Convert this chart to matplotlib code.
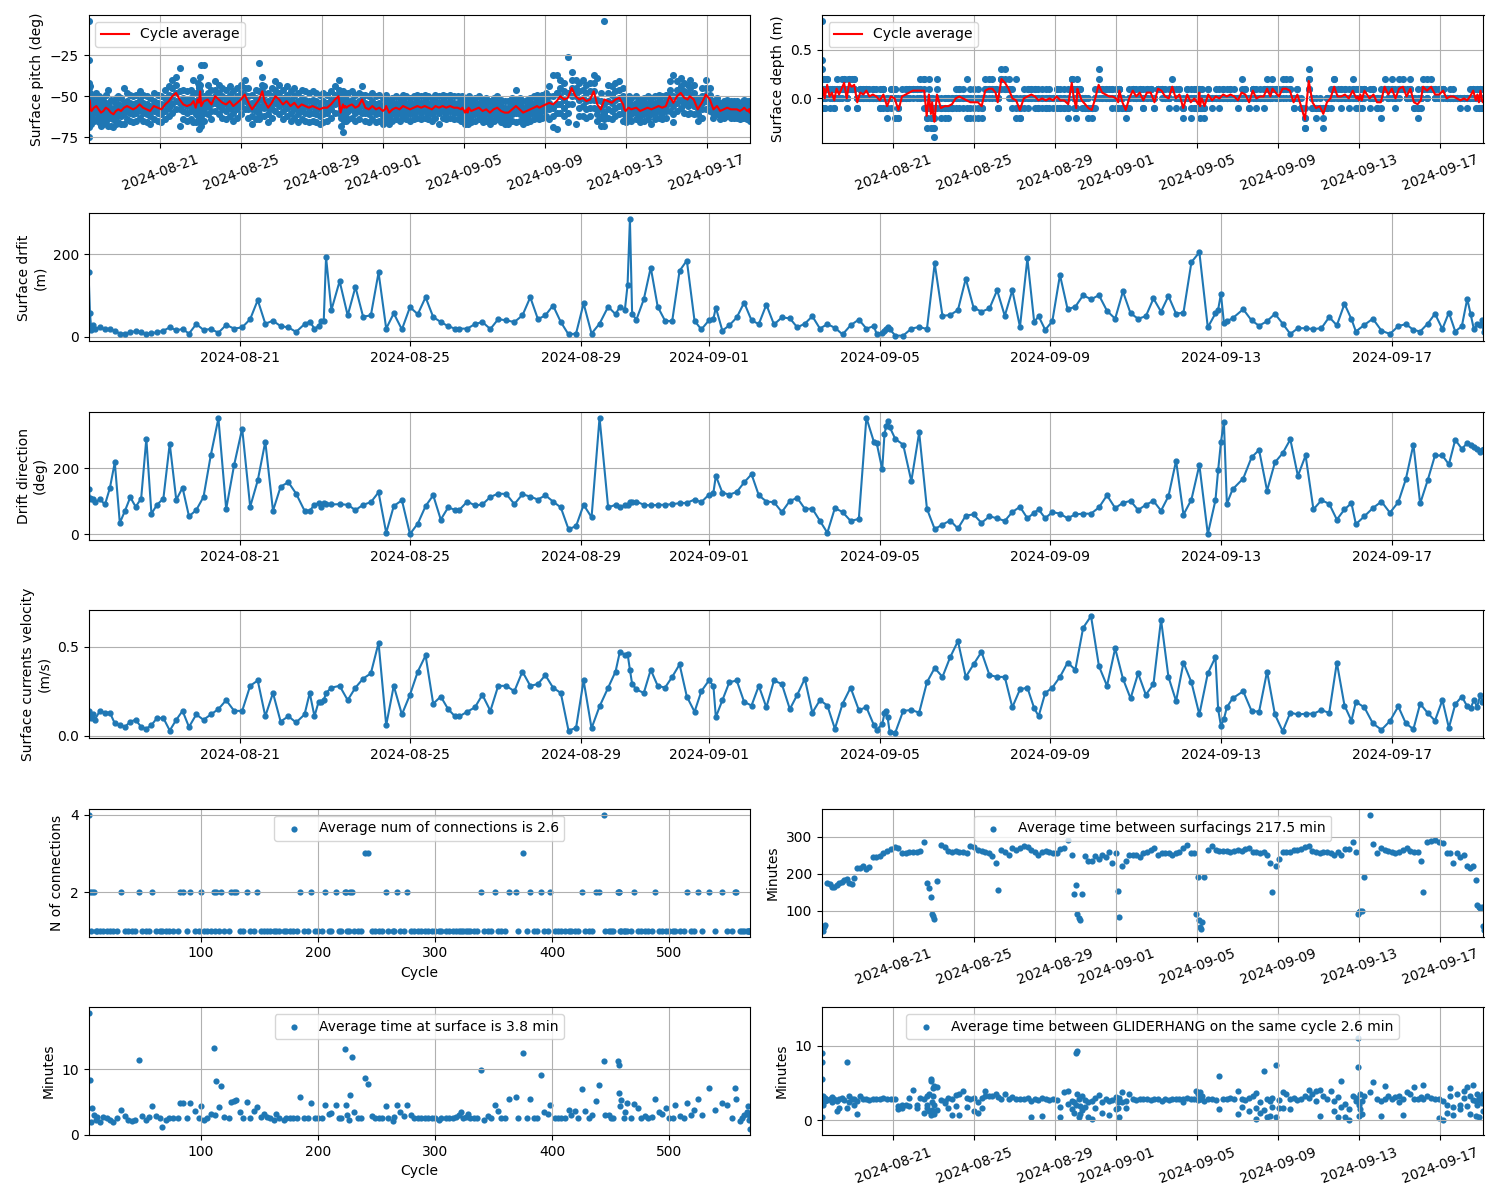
import numpy as np
import pandas as pd
import matplotlib
matplotlib.use('Agg')
import matplotlib.pyplot as plt
import matplotlib.dates as mdates
from matplotlib.ticker import MaxNLocator

# ---------------- data ----------------
start_time = pd.Timestamp('2024-08-17 11:00')

# minutes between consecutive surfacings
surf_interval = [
    50, 45, 55, 60, 175, 172, 165, 165, 170, 175, 178, 182, 185, 175, 172, 188, 215, 215, 220, 212, 218, 245, 245, 248, 255, 262, 268, 272,
    270, 255, 255, 260, 258, 260, 262, 285, 175, 160, 138, 90, 85, 78, 180, 278, 272, 262, 258, 262, 260, 258, 255, 275, 272,
    265, 262, 258, 255, 248, 228, 155, 265, 258, 250, 270, 265, 270, 275, 272, 265, 258, 250, 260, 262, 260, 255, 255,
    268, 270, 290, 250, 145, 170, 90, 80, 75, 145, 248, 235, 235, 248, 240, 250, 245, 260, 230, 255,
    152, 82, 220, 235, 250, 250, 250, 245, 255, 258, 265, 270, 250, 255, 255, 255, 250, 255, 260, 270, 278, 255, 255, 90,
    190, 75, 55, 50, 70, 192, 265, 275, 265, 262, 262, 262, 260, 262, 265, 262, 268, 270, 258, 258, 255, 258, 250, 230, 150, 222, 240,
    258, 258, 260, 265, 265, 268, 272, 275, 262, 258, 255, 260, 258, 255, 250, 258, 250, 268, 268, 285, 258,
    90, 95, 100, 100, 192, 360, 280, 255, 270, 265, 262, 258, 255, 260, 265, 270, 262, 258, 258, 235, 150, 285, 288, 290, 285,
    283, 255, 255, 228, 255, 245, 250, 220, 215, 222, 182, 115, 110, 108, 110, 58, 48,
]

# surface drift (m), one value per surfacing
drift = [
    156, 57, 16, 28, 20, 23, 18, 18, 15, 8, 8, 11, 14, 11, 6, 9, 11, 15, 23, 16, 19, 8, 31, 17, 19, 10, 29, 20, 23,
    43, 89, 32, 39, 26, 23, 12, 31, 37, 20, 26, 39, 39, 193, 65, 135, 52, 121, 49, 52, 156, 20, 57, 18, 72,
    55, 96, 48, 36, 26, 20, 20, 20, 31, 36, 19, 43, 40, 36, 52, 96, 43, 52, 76, 36, 6, 8, 81,
    8, 32, 73, 55, 73, 66, 125, 285, 55, 42, 91, 168, 73, 39, 38, 160, 185, 39, 18, 40,
    44, 71, 15, 28, 47, 83, 40, 31, 78, 30, 47, 45, 23, 32, 50, 20, 31, 22, 6, 28, 42, 20, 26, 7,
    10, 14, 20, 24, 19, 3, 3, 20, 24, 19, 178, 51, 53, 65, 141, 71, 61, 69, 113, 51, 113, 24, 190, 36, 50, 17, 38,
    150, 67, 73, 101, 91, 101, 63, 44, 110, 57, 44, 50, 93, 61, 99, 56, 59, 181, 205, 23, 57,
    66, 104, 34, 38, 45, 67, 40, 27, 38, 56, 32, 7, 21, 21, 19, 21, 48, 28, 80, 43, 13, 29, 44, 15, 7,
    26, 31, 17, 13, 32, 56, 19, 59, 13, 26, 92, 55, 18, 30, 28, 42, 11,
]

# drift direction (deg)
drift_dir = [
    138, 110, 108, 106, 97, 106, 90, 140, 218, 34, 71, 112, 83, 108, 290, 62, 89, 108, 275, 104, 141, 54, 73, 113, 241, 352, 76, 210, 321,
    83, 163, 281, 71, 144, 158, 123, 71, 71, 89, 94, 81, 95, 90, 90, 91, 89, 73, 89, 97, 127, 4, 85, 103, 0,
    32, 85, 118, 44, 81, 74, 74, 99, 87, 90, 113, 123, 122, 91, 121, 114, 105, 118, 99, 81, 15, 24, 89,
    51, 354, 81, 89, 81, 87, 89, 97, 99, 99, 89, 87, 89, 89, 91, 94, 95, 105, 97, 120,
    126, 177, 126, 120, 128, 157, 182, 118, 99, 97, 67, 101, 110, 77, 77, 40, 4, 79, 67, 40, 46, 354, 280, 278,
    197, 303, 328, 344, 326, 289, 272, 161, 309, 77, 15, 29, 41, 17, 56, 60, 34, 54, 48, 40, 67, 83, 48, 65, 75, 48, 67,
    62, 48, 60, 62, 62, 81, 118, 79, 95, 101, 73, 89, 101, 71, 115, 223, 59, 105, 210, 0, 103,
    194, 279, 342, 92, 136, 169, 233, 256, 132, 218, 246, 288, 177, 239, 75, 103, 92, 44, 75, 94, 30, 54, 79, 99, 65,
    97, 167, 272, 93, 164, 239, 239, 212, 287, 259, 277, 272, 264, 258, 249, 255, 259,
]

# surface currents velocity (m/s)
velocity = [
    0.14, 0.11, 0.10, 0.12, 0.09, 0.14, 0.13, 0.13, 0.07, 0.06, 0.05, 0.08, 0.09, 0.05, 0.04, 0.06, 0.10, 0.10, 0.03, 0.09,
    0.14, 0.05, 0.12, 0.09, 0.12, 0.15, 0.20, 0.14, 0.14,
    0.28, 0.31, 0.11, 0.24, 0.08, 0.11, 0.075, 0.12, 0.24, 0.11, 0.19, 0.19, 0.20, 0.24, 0.27, 0.28, 0.20, 0.27, 0.32, 0.35,
    0.52, 0.06, 0.28, 0.12, 0.23,
    0.36, 0.45, 0.18, 0.22, 0.15, 0.11, 0.11, 0.135, 0.16, 0.23, 0.14, 0.28, 0.28, 0.25, 0.36, 0.28, 0.29, 0.34, 0.27, 0.24,
    0.03, 0.045, 0.31,
    0.043, 0.165, 0.27, 0.36, 0.47, 0.455, 0.46, 0.37, 0.29, 0.26, 0.24, 0.37, 0.28, 0.27, 0.33, 0.40, 0.22, 0.135, 0.25, 0.31,
    0.28, 0.105, 0.20, 0.30, 0.31, 0.19, 0.17, 0.28, 0.16, 0.31, 0.29, 0.15, 0.23, 0.32, 0.13, 0.20, 0.17, 0.04, 0.18, 0.27,
    0.145, 0.16, 0.06, 0.034,
    0.066, 0.126, 0.14, 0.105, 0.024, 0.019, 0.14, 0.145, 0.13, 0.30, 0.38, 0.33, 0.44, 0.53, 0.33, 0.40, 0.47, 0.34, 0.33, 0.33,
    0.16, 0.26, 0.27, 0.155, 0.11, 0.24, 0.27,
    0.33, 0.41, 0.37, 0.605, 0.67, 0.39, 0.28, 0.49, 0.32, 0.21, 0.35, 0.23, 0.29, 0.65, 0.33, 0.195, 0.41, 0.30, 0.12, 0.35, 0.44,
    0.15, 0.056, 0.094, 0.16, 0.21, 0.25, 0.14, 0.135, 0.36, 0.12, 0.026, 0.13, 0.12, 0.124, 0.124, 0.145, 0.128, 0.41, 0.17, 0.085,
    0.19, 0.16, 0.07, 0.034, 0.083,
    0.165, 0.07, 0.038, 0.18, 0.128, 0.085, 0.20, 0.045, 0.177, 0.22, 0.165, 0.155, 0.20, 0.163, 0.23, 0.19, 0.20,
]

# pitch samples (deg) logged at each surfacing, ';' separates surfacings
pitch_samples = """
-4 -45 -58 -62 -66 -69 -75 -60; -28 -42 -50 -55 -60 -63 -66; -44 -48 -53 -58 -62; -50 -54 -58 -62 -66; -51 -56 -59 -62 -67;
-49 -54 -57 -60 -65; -48 -53 -56 -59 -64; -50 -55 -58 -61 -66; -52 -57 -60 -63 -68; -51 -56 -59 -62 -67;
-49 -54 -57 -60 -65; -46 -55 -58 -63 -68; -52 -57 -60 -63 -68; -53 -58 -61 -64 -69; -51 -56 -59 -62 -67;
-50 -55 -58 -61 -66; -51 -56 -59 -62 -67; -45 -54 -58 -61 -67; -48 -53 -56 -59 -64; -49 -54 -57 -60 -65;
-50 -55 -58 -61 -66; -49 -54 -57 -60 -65; -47 -52 -55 -58 -63; -49 -54 -57 -60 -65; -50 -55 -58 -61 -66;
-51 -56 -59 -62 -67; -48 -53 -56 -59 -64; -49 -54 -57 -60 -65; -50 -55 -58 -61 -66;
-46 -51 -55 -59 -64; -44 -49 -53 -57 -62; -40 -45 -50 -55 -60; -38 -43 -48 -53 -58; -33 -47 -54 -58 -68;
-46 -51 -55 -59 -64; -47 -52 -56 -60 -65; -46 -51 -55 -59 -64; -40 -48 -53 -58 -66; -48 -53 -57 -61 -66;
-42 -48 -52 -56 -62; -70 -45 -50 -55 -60 -44; -38 -43 -47 -51 -56; -31 -52 -58 -62 -68 -65; -31 -50 -55 -60 -65 -58;
-43 -48 -52 -56 -61; -46 -51 -55 -59 -64; -41 -46 -50 -54 -59; -43 -48 -52 -56 -61; -45 -50 -54 -58 -63;
-46 -51 -55 -59 -64; -44 -49 -53 -57 -62; -47 -52 -56 -60 -65; -45 -50 -54 -58 -63; -43 -48 -52 -56 -61;
-40 -45 -49 -53 -58; -45 -50 -54 -58 -63; -49 -54 -58 -62 -67; -46 -51 -55 -59 -64; -30 -47 -52 -58 -64 -61;
-38 -43 -47 -51 -56; -44 -49 -53 -57 -62; -48 -53 -57 -61 -66; -45 -50 -54 -58 -63; -41 -46 -50 -54 -59;
-43 -48 -52 -56 -61; -46 -51 -55 -59 -64; -44 -49 -53 -57 -62; -47 -52 -56 -60 -65; -45 -50 -54 -58 -63;
-48 -53 -57 -61 -66; -46 -51 -55 -59 -64; -47 -52 -56 -60 -65; -48 -53 -57 -61 -66; -47 -52 -56 -60 -65;
-48 -53 -57 -61 -66; -49 -54 -58 -62 -67; -48 -53 -57 -61 -66;
-49 -54 -57 -60 -65; -47 -52 -55 -58 -63; -44 -49 -52 -55 -60; -40 -46 -50 -54 -60; -52 -57 -60 -63 -68;
-72 -47 -52 -55 -49; -49 -54 -57 -60 -65; -48 -53 -56 -59 -64; -49 -54 -57 -60 -65; -48 -53 -56 -59 -64;
-47 -52 -55 -58 -63; -49 -54 -57 -60 -65; -48 -53 -56 -59 -64; -44 -49 -52 -55 -60; -49 -54 -57 -60 -65;
-50 -55 -58 -61 -66; -48 -53 -56 -59 -64; -50 -55 -58 -61 -66; -49 -54 -57 -60 -65; -51 -56 -59 -62 -67;
-51 -55 -58 -61 -65; -49 -53 -56 -59 -63; -53 -57 -60 -63 -67; -51 -55 -58 -61 -65; -50 -54 -57 -60 -64;
-51 -55 -58 -61 -65; -49 -53 -56 -59 -63; -50 -54 -57 -60 -64; -51 -55 -58 -61 -65; -50 -54 -57 -60 -64;
-49 -53 -56 -59 -63; -50 -54 -57 -60 -64; -49 -53 -56 -59 -63; -50 -54 -57 -60 -64; -51 -55 -58 -61 -65;
-49 -53 -56 -59 -63; -50 -54 -57 -60 -67 -54; -49 -53 -56 -59 -63; -50 -54 -57 -60 -64; -49 -53 -56 -59 -63;
-50 -54 -57 -60 -64; -50 -54 -57 -60 -64; -51 -55 -58 -61 -65; -50 -54 -57 -60 -64;
-53 -57 -60 -63 -67; -52 -56 -59 -62 -66; -51 -55 -58 -61 -65; -53 -57 -60 -63 -67; -50 -54 -57 -60 -64;
-52 -56 -59 -62 -66; -51 -55 -58 -61 -65; -50 -54 -57 -60 -64; -52 -56 -59 -62 -66; -51 -55 -58 -61 -65;
-53 -57 -60 -63 -67; -51 -55 -58 -61 -65; -50 -54 -57 -60 -64; -52 -56 -59 -62 -66; -53 -57 -60 -63 -67;
-53 -57 -60 -63 -67; -51 -55 -58 -61 -65; -46 -52 -56 -60 -66; -51 -55 -58 -61 -65; -53 -57 -60 -63 -67;
-52 -56 -59 -62 -66; -51 -55 -58 -61 -65; -50 -54 -57 -60 -64; -49 -53 -56 -59 -63; -50 -54 -57 -60 -64;
-49 -53 -56 -59 -63; -48 -52 -55 -58 -62;
-44 -50 -54 -58 -64; -37 -50 -57 -62 -69; -37 -48 -55 -60 -70 -48; -40 -45 -50 -55 -60; -42 -47 -52 -57 -62;
-26 -48 -55 -60 -66; -35 -40 -45 -50 -55; -67 -40 -45 -50 -48; -42 -47 -52 -57 -62; -40 -46 -51 -56 -62;
-43 -48 -53 -58 -63; -42 -47 -52 -57 -62; -37 -42 -47 -52 -57; -39 -52 -58 -61 -65; -48 -53 -58 -63 -68;
-4 -55 -60 -64 -68 -61; -43 -48 -53 -58 -63; -44 -49 -54 -59 -64; -42 -47 -52 -57 -62; -41 -46 -51 -56 -61;
-45 -50 -55 -60 -65;
-51 -55 -58 -61 -65; -52 -56 -59 -62 -66; -51 -55 -58 -61 -65; -50 -54 -57 -60 -64; -51 -55 -58 -61 -65;
-50 -54 -57 -60 -64; -52 -56 -59 -62 -66; -51 -55 -58 -61 -65; -50 -54 -57 -60 -64; -51 -55 -58 -61 -67 -56;
-50 -54 -57 -60 -64; -49 -53 -56 -59 -63; -50 -54 -57 -60 -64; -49 -53 -56 -59 -63; -41 -46 -50 -54 -59;
-37 -50 -56 -61 -66; -41 -46 -50 -54 -59; -39 -44 -48 -52 -57; -42 -47 -51 -55 -60; -43 -48 -52 -56 -61;
-40 -45 -50 -55 -60; -43 -48 -52 -56 -61; -51 -55 -58 -61 -65; -45 -50 -54 -58 -63; -40 -45 -49 -53 -58;
-45 -49 -52 -55 -59; -53 -56 -58 -60 -63; -51 -54 -56 -58 -61; -54 -57 -59 -61 -64; -53 -56 -58 -60 -63;
-52 -55 -57 -59 -62; -53 -56 -58 -60 -63; -53 -56 -58 -60 -63; -53 -56 -58 -60 -63; -54 -57 -59 -61 -64;
-53 -56 -58 -60 -63; -52 -55 -57 -59 -62; -53 -56 -58 -60 -63; -54 -57 -59 -61 -64; -53 -56 -58 -60 -63;
-55 -58 -60 -62 -65; -53 -56 -58 -60 -63
"""

# surface depth samples (decimetres) logged at each surfacing
depth_samples = """
8 -1 -1 -1 -1 0; 4 3 -1 0 0 1; 2 1 0 0 -1; 2 1 1 0 1; 1 0 0 -1 0; 2 2 1 1 1; 1 0 0 1 -1; 1 1 0 1 0; 0 0 -1 1 -1;
2 1 1 0 1; 1 0 1 0 0; 2 1 1 1 0; 2 2 1 2 1; 0 0 1 0 -1; 2 2 2 1 1; 1 1 1 2 1; 1 1 2 1 2; 0 -1 0 -1 0; 1 1 0 1 0;
1 0 1 0 0; 1 1 1 1 0; 0 0 1 0 0; 1 0 0 1 0; 0 0 0 0 1; 0 -1 0 1 -1; 1 1 0 -1 1; 0 -2 -1 0 -1; 1 1 0 0 -1; 1 0 -2 0 1;
-2 -1 -1 -2 0; 0 1 0 0 0; 1 0 0 1 0; 1 0 1 1 0; 1 1 0 1 1; 1 1 0 1 1; 2 1 0 0 1; 2 2 1 0 -1; -1 -2 -3 -1 -2;
2 1 0 -1 0; -1 -2 -1 -3 -1; 0 0 -1 -1 0; -2 -3 -1 -1 -2; -4 -3 -2 -1 -2; 2 1 0 0 -1; -1 -2 -1 0 -1; -1 -1 0 -2 0;
-1 -2 0 -1 0; -1 0 0 -1 -1; 1 0 -1 0 0; 1 0 0 1 -1; 0 0 1 0 -1; 2 0 -1 0 -2; 1 -1 0 -2 0; 0 -1 0 -2 1;
-2 -1 0 0 1; -2 -1 -1 0 0; 1 2 0 1 0; 2 1 1 0 1; 2 1 1 1 0; 1 1 0 0 1; 0 -1 0 -1 0; 3 2 2 1 2; 3 2 1 1 1;
2 1 0 1 1; 1 0 0 0 -1; 2 -1 -2 0 0; -1 -2 -1 0 -2; 1 0 0 -1 0; 1 1 0 0 -1; 1 1 0 0 0; 1 0 0 1 -1; 0 -1 0 1 -1;
1 0 0 -1 0; 0 0 -1 1 -1; 1 0 0 -1 0; 0 -1 0 0 0; 1 0 -1 0 1;
0 -1 0 1 -1; 0 -1 -1 1 0; -1 -1 0 -2 1; 2 2 1 1 2; 0 0 -1 0 1; -1 -2 0 -1 -1; 2 1 1 0 1; 1 0 0 1 1; 1 1 0 0 0;
0 -1 0 0 0; -1 -1 0 -1 0; -1 -2 -1 0 -1; -2 -1 -1 -1 -1; 0 0 1 0 -1; 3 2 1 1 0; 1 0 1 0 1; 1 1 0 0 0; 0 0 1 0 0;
1 -1 0 1 0; 0 1 0 -1 0;
0 -1 -1 0 0; 1 1 0 1 1; 0 -1 0 -1 0; -2 -1 -1 -1 -1; 1 0 0 -1 0; 1 1 0 1 1; 1 0 0 0 0; 1 1 0 1 0; 0 -1 1 0 -1;
1 0 1 1 0; 1 0 0 1 1; -1 0 -1 0 0; 1 1 1 1 1; 1 0 1 1 1; 1 0 0 0 0; 0 1 0 0 -1; 2 1 1 1 1; 0 0 1 0 -1; 1 0 0 1 0;
-2 -1 -1 0 -1; 1 0 0 1 0; -1 -2 0 0 1; 0 0 1 -1 0; 1 -1 0 0 -1;
-1 -1 0 0 -1; 1 1 0 1 0; -1 -2 0 -1 0; 0 -1 -1 0 0; 1 0 0 0 -1; -2 -1 0 -1 0; 1 0 0 1 0; 0 0 -1 0 0; 1 0 0 0 0;
0 0 1 -1 0; 1 0 0 1 0; 0 1 0 0 0; 1 0 1 0 0; 1 0 0 0 0; 0 -1 0 0 0; 2 0 0 1 0; 1 1 0 0 0; -1 0 -1 0 0; 1 1 1 0 1;
0 0 1 -1 0; 0 1 0 0 0; 1 0 -1 1 0; 2 1 1 0 1; 1 0 0 0 0; 2 1 1 1 0; 1 1 0 0 1; 0 1 0 0 0;
2 1 1 0 1; 2 1 0 1 1; 1 2 0 1 0; 0 -1 0 -1 0; 1 0 1 0 0; -1 -1 0 -1 -1; -3 -2 -2 -1 -3; 3 2 1 1 2; 0 -1 0 -1 0;
-1 -2 0 -1 -1; -1 -1 -1 0 -1; -3 -2 -1 -1 -1; 0 -1 0 -1 0; 1 0 0 -1 0; 2 2 1 1 0; 1 0 0 0 0; 1 0 0 -1 1; 1 1 0 0 0;
0 0 1 -1 0; 2 1 0 0 1; 0 0 -1 1 0;
1 0 0 0 0; 0 -1 0 0 0; 1 0 1 0 0; 0 -1 0 0 0; 1 1 0 1 1; 0 0 1 -1 0; 1 0 0 1 0; -1 0 -1 0 0; -2 0 -1 0 1;
2 1 1 1 1; 1 0 1 0 0; 2 1 1 0 1; 0 1 0 -1 0; 2 1 1 1 0; 2 1 1 1 1; 1 0 0 0 0; 2 1 1 0 1; -1 0 -1 0 0;
-2 -1 0 -1 1; 0 -1 0 0 0; 2 1 1 1 1; 2 1 0 1 0; 2 1 1 1 1; 1 0 1 0 0; 1 1 0 0 0;
1 1 0 1 1; 0 0 0 0 0; 0 0 0 1 0; 0 0 1 0 0; 0 0 0 0 0; 0 -1 0 0 0; 0 0 0 0 0; -1 0 0 0 0; 1 0 0 0 0;
1 1 0 1 1; 0 -1 0 0 0; 1 0 0 1 0; -1 0 -1 0 0; 1 1 0 1 1; 0 -1 0 0 0; 0 -1 -1 0 0; 1 -1 0 -1 0
"""

# minutes between GLIDERHANG messages within one surfacing ('/' separates values)
hang_samples = """
9.0/7.9/0.4 5.6/2.5 3.3/2.0 2.8 3.0/2.6 2.7 2.9 3.1/2.4 2.8 2.6/1.2 2.9/1.7 3.0 2.7 7.9/1.6 3.2/2.5 2.8 2.9/2.0
0.8/2.6 3.3 2.8 2.9 2.7 2.8 2.9 2.8 3.0 2.9 2.8 2.9
1.9/1.5 1.7/2.0 2.1 3.0/1.9 4.1 2.0/1.6 3.0 2.9/1.0 3.3/1.6/2.0 3.6/1.2 5.5/5.3/0.7 2.5/1.4 4.4/3.3 4.6/2.0/0.8
4.5/1.4 2.7 2.6/2.3 3.0/1.7 2.8/0.7 3.4/1.9 3.6/0.7 3.9 3.0/1.8 2.9 3.0/1.3
1.0/2.5 3.0/1.7 4.0/3.2 3.2 3.3 3.6 3.1 2.9 3.5 2.9 3.1 2.8 2.9 2.8 3.0 0.4/2.6 2.9 2.7 3.0/0.6 2.8 2.7 2.9 2.7
0.5/1.8 3.8 3.9/2.2 2.6/1.5 1.0/2.4 9.0/2.0 9.3/3.6 0.5/2.9 0.8/1.9 3.2/1.4 2.7/1.8 2.5/0.5 0.2/2.6 3.0/1.6 3.4
2.4/1.0 2.8 2.6/0.7 2.7 3.1/1.5
2.4/1.6 0.4/3.0 3.8/2.4 2.6/1.6 3.6 2.8 2.7 2.9 2.8 2.9 2.7 2.8 2.9 2.6 2.8 2.7 2.8 2.9 2.8 2.9/2.5 3.0 2.8 2.9 3.9
3.5/2.7 2.8 3.8 2.9 3.2 2.6 2.8 2.9 2.7 5.9/1.5 2.8 2.9 3.0 2.8 4.0/0.9 2.8/1.8 2.7 3.0/1.2 3.3 3.7/0.2/1.6
2.4/1.0 6.6/1.4 2.8/0.5 2.6/0.6 3.0/1.8 7.4/0.4 2.7/1.7
3.8/1.6 3.5 2.9/1.5 3.0 2.7 2.9 3.2 4.1/3.0 3.5 4.0/2.6 4.1/0.6 3.2 2.8 3.9 2.6/1.3 3.1/0.5 5.3/1.8 2.2/0.5
0.0/1.5 3.2 3.0/2.6
11.0/7.2 2.0/0.6 3.6/1.5 2.6/0.8 3.3 3.8 5.2 2.9 0.6/2.6 4.6/2.8 3.2 2.8 3.1 3.3/2.4 2.9/0.7 3.8 3.6 4.5/2.8
2.9 3.1 4.8/2.9 3.2 3.0 2.9 2.8/0.3
2.6/0.1 2.0/1.0 4.3/3.3 1.8/0.7 3.5 2.1/1.5 4.0/3.0 4.5/1.9 3.2/0.9 4.8/2.7 2.6/0.6 3.5/2.0 3.0/0.5 2.7
3.3/2.3 3.6/1.2 2.5/3.0
"""

# per-cycle statistics
cycle = [
    4, 5, 6, 7, 9, 10, 11, 14, 16, 20, 22, 25, 28, 32, 35, 38, 41, 44, 47, 50,
    53, 56, 58, 62, 65, 67, 70, 73, 76, 80, 82, 85, 88, 91, 95, 98, 100, 103, 105, 109,
    111, 112, 113, 115, 117, 120, 124, 126, 128, 130, 133, 136, 139, 142, 145, 148, 151, 154, 156, 159,
    162, 164, 167, 171, 173, 176, 179, 182, 185, 188, 191, 194, 197, 200, 203, 206, 209, 211, 215, 218,
    220, 223, 224, 225, 226, 227, 229, 231, 234, 237, 240, 243, 246, 249, 252, 255, 258, 260, 264, 265,
    267, 270, 273, 276, 279, 282, 285, 288, 291, 294, 297, 300, 303, 305, 309, 312, 315, 318, 320, 322,
    324, 326, 328, 330, 333, 336, 339, 342, 345, 348, 351, 354, 356, 360, 363, 369, 371, 375, 378, 381,
    384, 387, 390, 393, 396, 398, 402, 405, 407, 411, 414, 416, 419, 422, 425, 428, 431, 434, 437, 440,
    444, 445, 448, 450, 452, 456, 457, 457, 458, 459, 461, 462, 464, 467, 470, 473, 476, 479, 482, 485,
    488, 491, 494, 497, 500, 503, 505, 509, 512, 515, 518, 521, 524, 528, 534, 539, 545, 549, 553, 556,
    557, 560, 562, 564, 566, 567, 568, 568, 569,
]
time_at_surface = [
    18.6, 8.3, 1.9, 4.0, 3.0, 2.2, 2.7, 1.9, 2.7, 2.5, 2.3, 1.9, 2.5, 3.8, 2.8, 2.3, 2.1, 2.2, 11.4, 2.8,
    2.2, 2.7, 4.3, 2.8, 2.5, 1.2, 2.3, 2.5, 2.5, 2.5, 4.8, 4.9, 2.6, 4.9, 3.6, 2.5, 4.3, 2.3, 2.5, 3.2,
    13.2, 3.0, 8.2, 4.2, 7.4, 2.7, 2.5, 5.0, 5.2, 5.3, 3.4, 2.5, 5.0, 2.5, 3.6, 4.2, 2.7, 3.1, 2.7, 2.5,
    2.3, 3.1, 2.5, 2.3, 2.5, 2.5, 2.5, 2.5, 5.7, 2.5, 2.5, 4.9, 2.5, 2.5, 2.5, 4.5, 3.1, 3.3, 4.5, 2.6,
    2.6, 13.1, 4.6, 3.0, 2.3, 6.0, 11.9, 3.4, 2.5, 2.5, 8.6, 7.7, 2.9, 2.5, 2.6, 2.5, 4.4, 2.5, 2.1, 2.7,
    4.5, 3.5, 2.8, 4.5, 3.0, 2.5, 2.6, 2.6, 2.5, 2.6, 2.6, 2.5, 2.3, 2.5, 2.5, 2.5, 2.6, 2.7, 3.0, 3.4,
    2.5, 2.7, 3.2, 2.5, 2.5, 2.5, 9.9, 2.3, 2.8, 2.5, 4.5, 3.6, 2.5, 2.5, 5.4, 5.7, 2.5, 12.5, 2.5, 5.4,
    2.5, 2.5, 9.1, 3.4, 3.2, 4.5, 2.5, 2.5, 2.5, 2.6, 3.7, 3.0, 3.6, 2.5, 6.9, 3.6, 2.5, 3.0, 5.1, 7.6,
    11.3, 3.0, 3.0, 2.6, 2.5, 11.2, 10.7, 6.3, 4.4, 5.3, 2.6, 3.5, 4.8, 2.5, 4.7, 4.0, 2.6, 2.8, 2.6, 2.7,
    5.4, 3.4, 3.2, 4.1, 2.5, 2.5, 4.5, 2.8, 2.6, 4.9, 3.0, 3.7, 5.5, 3.0, 7.2, 3.8, 4.8, 4.5, 2.5, 7.2,
    5.4, 2.1, 2.5, 3.0, 3.5, 4.4, 3.0, 2.2, 0.8,
]
n_connections = [
    4, 2, 1, 2, 2, 1, 1, 1, 1, 1, 1, 1, 1, 2, 1, 1, 1, 1, 2, 1,
    1, 1, 2, 1, 1, 1, 1, 1, 1, 1, 2, 2, 1, 2, 1, 1, 2, 1, 1, 1,
    2, 1, 2, 1, 2, 1, 1, 2, 2, 2, 1, 1, 2, 1, 1, 2, 1, 1, 1, 1,
    1, 1, 1, 1, 1, 1, 1, 1, 2, 1, 1, 2, 1, 1, 1, 2, 1, 1, 2, 1,
    1, 2, 2, 1, 1, 2, 2, 1, 1, 1, 3, 3, 1, 1, 1, 1, 2, 1, 1, 1,
    2, 1, 1, 2, 1, 1, 1, 1, 1, 1, 1, 1, 1, 1, 1, 1, 1, 1, 1, 1,
    1, 1, 1, 1, 1, 1, 2, 1, 1, 1, 2, 1, 1, 1, 2, 2, 1, 3, 1, 2,
    1, 1, 2, 1, 1, 2, 1, 1, 1, 1, 1, 1, 1, 1, 2, 1, 1, 1, 2, 2,
    4, 1, 1, 1, 1, 2, 2, 2, 1, 1, 1, 1, 1, 1, 2, 1, 1, 1, 1, 1,
    2, 1, 1, 1, 1, 1, 1, 1, 1, 2, 1, 1, 2, 1, 2, 1, 2, 1, 1, 2,
    2, 1, 1, 1, 1, 1, 1, 1, 1,
]

avg_connections = 2.6
avg_between_surfacings = 217.5
avg_time_at_surface = 3.8
avg_between_hang = 2.6

# ---------------- derived series ----------------
surf_time = (start_time + pd.to_timedelta(np.concatenate([[0], np.cumsum(surf_interval)]), unit='min')).values

pitch_groups = [[float(v) for v in g.split()] for g in pitch_samples.split(';') if g.strip()]
depth_groups = [[float(v) / 10 for v in g.split()] for g in depth_samples.split(';') if g.strip()]
hang_groups = [[float(v) for v in g.split('/')] for g in hang_samples.split()]


def spread(groups):
    x = np.repeat(surf_time, [len(g) for g in groups])
    y = np.concatenate(groups)
    return x, y


pitch_x, pitch_y = spread(pitch_groups)
depth_x, depth_y = spread(depth_groups)
hang_x, hang_y = spread(hang_groups)
pitch_avg = [np.mean(g) for g in pitch_groups]
depth_avg = [np.mean(g) for g in depth_groups]

# ---------------- figure ----------------
fig = plt.figure(figsize=(15, 12), dpi=100)
gs = fig.add_gridspec(6, 2, left=0.059, right=0.989, top=0.9875, bottom=0.054, hspace=0.55, wspace=0.108)

ax_pitch = fig.add_subplot(gs[0, 0])
ax_depth = fig.add_subplot(gs[0, 1])
ax_drift = fig.add_subplot(gs[1, :])
ax_dir = fig.add_subplot(gs[2, :])
ax_vel = fig.add_subplot(gs[3, :])
ax_conn = fig.add_subplot(gs[4, 0])
ax_gap = fig.add_subplot(gs[4, 1])
ax_tsurf = fig.add_subplot(gs[5, 0])
ax_hang = fig.add_subplot(gs[5, 1])


def date_axis(ax, rotate=False):
    ax.xaxis.set_major_locator(mdates.DayLocator(bymonthday=range(1, 32, 4)))
    ax.xaxis.set_major_formatter(mdates.DateFormatter('%Y-%m-%d'))
    ax.set_xlim(surf_time[0], surf_time[-1])
    if rotate:
        ax.tick_params(axis='x', labelrotation=20)


big_dot = dict(s=26, linewidths=0, color='C0')
dot = dict(s=20, linewidths=0, color='C0')

# Surface pitch
ax_pitch.scatter(pitch_x, pitch_y, **big_dot)
ax_pitch.plot(surf_time, pitch_avg, color='red', label='Cycle average')
ax_pitch.set_ylabel('Surface pitch (deg)')
ax_pitch.legend(loc='upper left')
date_axis(ax_pitch, rotate=True)

# Surface depth
ax_depth.scatter(depth_x, depth_y, **big_dot)
ax_depth.plot(surf_time, depth_avg, color='red', label='Cycle average')
ax_depth.set_ylabel('Surface depth (m)')
ax_depth.legend(loc='upper left')
date_axis(ax_depth, rotate=True)

# Drift, direction, velocity
ax_drift.plot(surf_time, drift, '.-', markersize=7)
ax_drift.set_ylabel('Surface drfit\n(m)')
date_axis(ax_drift)

ax_dir.plot(surf_time, drift_dir, '.-', markersize=7)
ax_dir.set_ylabel('Drift direction\n(deg)')
date_axis(ax_dir)

ax_vel.plot(surf_time, velocity, '.-', markersize=7)
ax_vel.set_ylabel('Surface currents velocity\n(m/s)')
date_axis(ax_vel)

# Connections per cycle
ax_conn.scatter(cycle, n_connections, label=f'Average num of connections is {avg_connections}', **dot)
ax_conn.set_ylabel('N of connections')
ax_conn.set_xlabel('Cycle')
ax_conn.set_xlim(min(cycle), max(cycle))
ax_conn.legend(loc='upper center')

# Time between surfacings
ax_gap.scatter(surf_time[1:], surf_interval, label=f'Average time between surfacings {avg_between_surfacings} min', **dot)
ax_gap.set_ylabel('Minutes')
ax_gap.legend(loc='upper center')
date_axis(ax_gap, rotate=True)

# Time at surface per cycle
ax_tsurf.scatter(cycle, time_at_surface, label=f'Average time at surface is {avg_time_at_surface} min', **dot)
ax_tsurf.set_ylabel('Minutes')
ax_tsurf.set_xlabel('Cycle')
ax_tsurf.set_xlim(min(cycle), max(cycle))
ax_tsurf.legend(loc='upper center')

# Time between GLIDERHANG messages
ax_hang.scatter(hang_x, hang_y, label=f'Average time between GLIDERHANG on the same cycle {avg_between_hang} min', **dot)
ax_hang.set_ylabel('Minutes')
ax_hang.set_ylim(-2, 15.2)
ax_hang.legend(loc='upper center')
date_axis(ax_hang, rotate=True)

for ax in fig.axes:
    ax.grid(True)
    ax.yaxis.set_major_locator(MaxNLocator(nbins=2, steps=[1, 2, 2.5, 5, 10]))

fig.savefig('out.png', dpi=100)
